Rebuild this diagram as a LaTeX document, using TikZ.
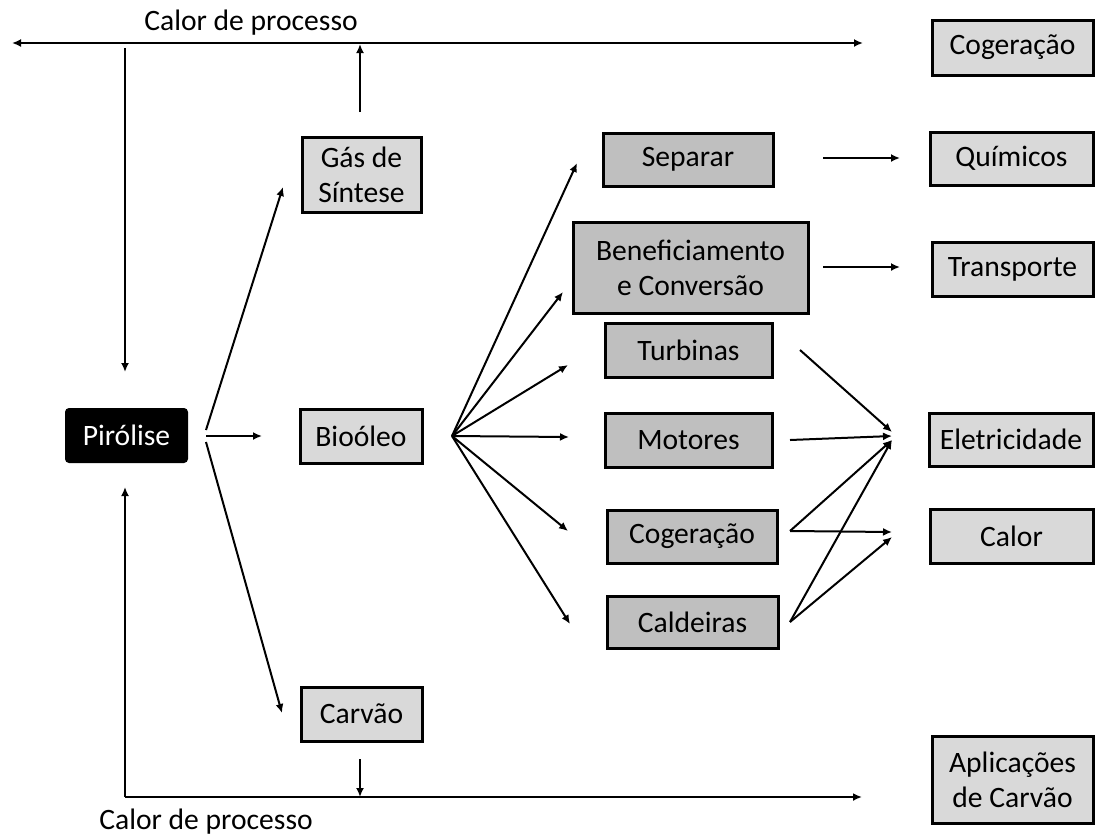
\documentclass[tikz,border=0pt]{standalone}
\usepackage{fontspec}
\setmainfont{Carlito}
\usetikzlibrary{arrows.meta}
\definecolor{lightbox}{HTML}{D9D9D9}
\definecolor{midbox}{HTML}{BFBFBF}
\begin{document}
\begin{tikzpicture}[x=0.5pt,y=-0.5pt,
  font=\fontsize{14.8}{17.5}\selectfont,
  box/.style={draw=black, line width=1.5pt, inner sep=0pt, align=center, text=black},
  lbox/.style={box, fill=lightbox},
  mbox/.style={box, fill=midbox},
  tip/.tip={Latex[length=4.5pt,width=4pt]},
  arr/.style={line width=1pt, -tip},
  dbl/.style={line width=1pt, tip-tip},
  ln/.style={line width=1pt},
  lbl/.style={inner sep=0pt, text=black}]
\useasboundingbox (0,0) rectangle (1097,836);

% right column
\node[lbox, minimum width=80.5pt, minimum height=27.5pt] (cogTop) at (1012.5,47.5) {Cogeração};
\node[lbox, minimum width=81.5pt, minimum height=26.5pt] (quim) at (1011.5,158.5) {Químicos};
\node[lbox, minimum width=80.5pt, minimum height=27pt] (transp) at (1012.5,269) {Transporte};
\node[lbox, minimum width=82pt, minimum height=26.5pt] (eletr) at (1011,439.5) {Eletricidade};
\node[lbox, minimum width=81.5pt, minimum height=27pt] (calor) at (1011.5,536) {Calor};
\node[lbox, minimum width=80.5pt, minimum height=43.5pt] (aplic) at (1012.5,779.5) {Aplicações\\de Carvão};

% middle column
\node[mbox, minimum width=85pt, minimum height=26.5pt] (separar) at (688,159.5) {Separar};
\node[mbox, minimum width=117.5pt, minimum height=45.5pt] (benef) at (690.5,267.5) {Beneficiamento\\e Conversão};
\node[mbox, minimum width=83.5pt, minimum height=27pt] (turb) at (688.5,350) {Turbinas};
\node[mbox, minimum width=83.5pt, minimum height=27pt] (motores) at (688.5,440) {Motores};
\node[mbox, minimum width=85pt, minimum height=26.5pt] (cogMid) at (692,536.5) {Cogeração};
\node[mbox, minimum width=85.5pt, minimum height=26pt] (cald) at (692.5,622) {Caldeiras};

% left columns
\node[lbox, minimum width=59.5pt, minimum height=37.5pt] (gas) at (361.5,174.5) {Gás de\\Síntese};
\node[lbox, minimum width=61pt, minimum height=27pt] (bio) at (361,436) {Bioóleo};
\node[lbox, minimum width=60.5pt, minimum height=27pt] (carvao) at (361.5,714) {Carvão};
\node[fill=black, rounded corners=2pt, inner sep=0pt, minimum width=61.5pt, minimum height=27.5pt, text=white] (pir) at (126.5,435.5) {Pirólise};

% labels
\node[lbl] (ctop) at (251,23) {Calor de processo};
\node[lbl] (cbot) at (206,822) {Calor de processo};

% coordinates
\coordinate (tl) at (12,43);
\coordinate (tr) at (863,43);
\coordinate (vtop) at (125,48);
\coordinate (vtopend) at (125,372);
\coordinate (gup0) at (360,112);
\coordinate (gup1) at (360,44);
\coordinate (p0) at (206,436);
\coordinate (pg0) at (206,430);
\coordinate (pc0) at (206,442);
\coordinate (pg1) at (283,187);
\coordinate (pb1) at (262,436);
\coordinate (pc1) at (282,713);
\coordinate (cd0) at (360,759);
\coordinate (cd1) at (360,797);
\coordinate (bl) at (125,797);
\coordinate (blup) at (125,487);
\coordinate (br) at (862,797);
\coordinate (b0) at (452,436);
\coordinate (bs) at (577,163);
\coordinate (bb) at (563,292);
\coordinate (bt) at (568,365);
\coordinate (bm) at (569,437);
\coordinate (bc) at (568,531);
\coordinate (bk) at (570,624);
\coordinate (sq0) at (823,158);
\coordinate (sq1) at (900,158);
\coordinate (bt0) at (823,267);
\coordinate (bt1) at (900,267);
\coordinate (tu0) at (800,350);
\coordinate (mo0) at (790,440);
\coordinate (co0) at (790,531);
\coordinate (ca0) at (790,622);
\coordinate (e1) at (892,432);
\coordinate (e2) at (892,436);
\coordinate (e3) at (892,440);
\coordinate (h1) at (892,532);
\coordinate (h2) at (892,537);

% top process heat line
\draw[dbl] (tl) -- (tr);
\draw[arr] (vtop) -- (vtopend);
\draw[arr] (gup0) -- (gup1);

% pyrolysis outputs
\draw[arr] (pg0) -- (pg1);
\draw[arr] (p0) -- (pb1);
\draw[arr] (pc0) -- (pc1);

% bottom process heat line
\draw[arr] (cd0) -- (cd1);
\draw[arr] (bl) -- (blup);
\draw[arr] (bl) -- (br);

% bio-oil fan
\foreach \t in {bs,bb,bt,bm,bc,bk} \draw[arr] (b0) -- (\t);

% to right column
\draw[arr] (sq0) -- (sq1);
\draw[arr] (bt0) -- (bt1);
\draw[arr] (tu0) -- (e1);
\draw[arr] (mo0) -- (e2);
\draw[arr] (co0) -- (e3);
\draw[arr] (co0) -- (h1);
\draw[arr] (ca0) -- (e3);
\draw[arr] (ca0) -- (h2);
\end{tikzpicture}
\end{document}
